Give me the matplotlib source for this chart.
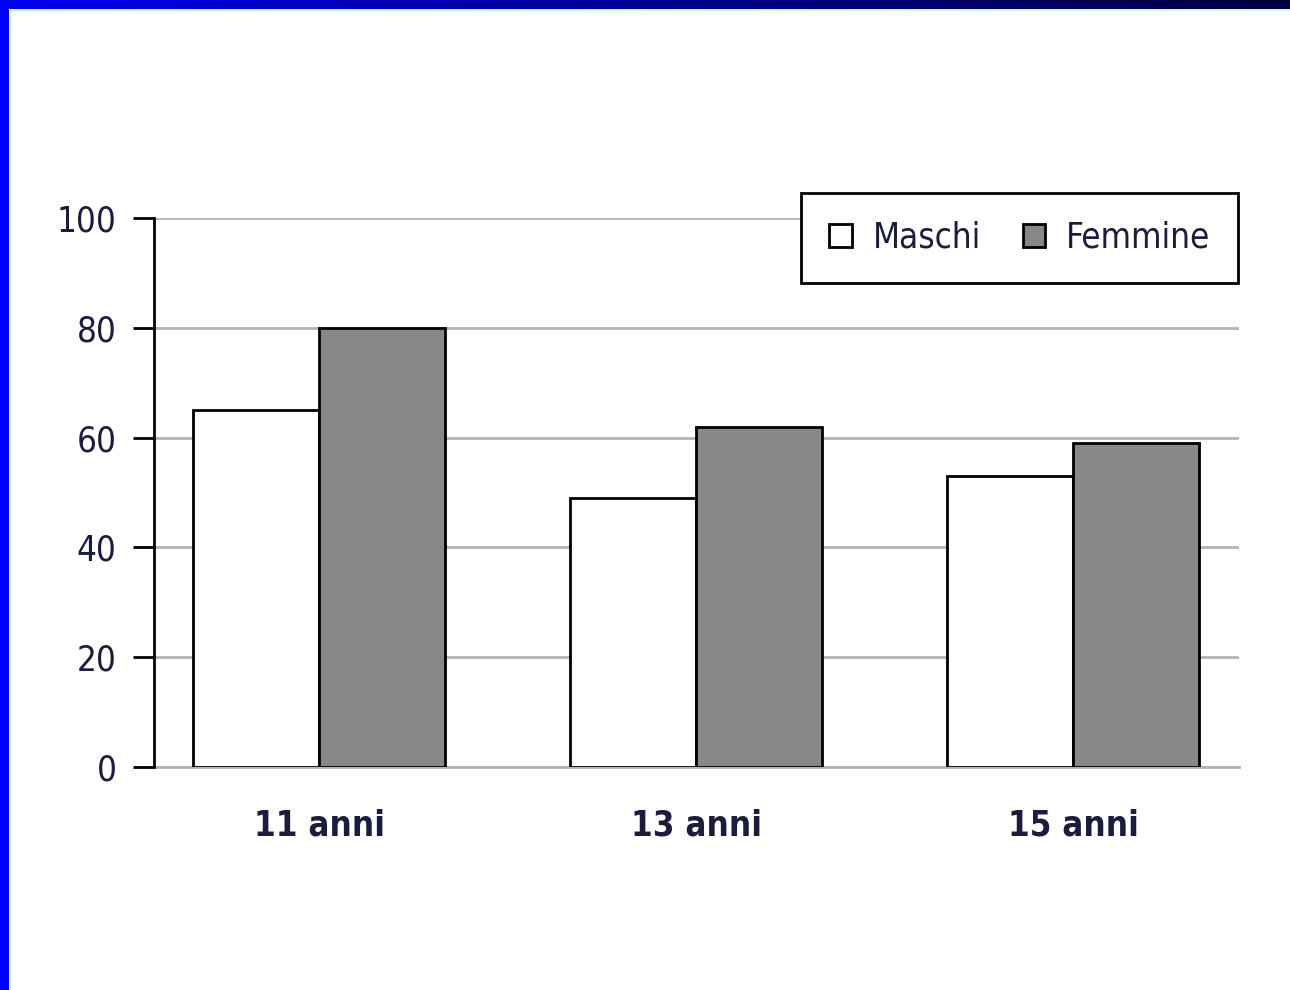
import numpy as np
import matplotlib.pyplot as plt
from matplotlib.patches import Rectangle
from matplotlib.colors import LinearSegmentedColormap
from matplotlib.font_manager import findfont, FontProperties

# dati
categorie = ['11 anni', '13 anni', '15 anni']
maschi = [65, 49, 53]
femmine = [80, 62, 59]
y_ticks = [0, 20, 40, 60, 80, 100]

# font stretto se disponibile
stretch = 'normal'
fam = ['Liberation Sans', 'DejaVu Sans']
try:
    p = findfont(FontProperties(family='Liberation Sans Narrow'), fallback_to_default=False)
    if 'Narrow' in p:
        fam = ['Liberation Sans Narrow', 'DejaVu Sans']
except Exception:
    p = findfont(FontProperties(family='DejaVu Sans', stretch='condensed'))
    if 'Condensed' in p:
        fam = ['DejaVu Sans']
        stretch = 'condensed'
plt.rcParams['font.family'] = fam
plt.rcParams['font.stretch'] = stretch
txt_col = '#1c1c3c'

W, H = 1290, 990
fig = plt.figure(figsize=(W / 100, H / 100), dpi=100)
fig.patch.set_facecolor('white')

# bordo blu sinistro e barra in alto sfumata
fig.patches.append(Rectangle((0, 0), 9 / W, 1, transform=fig.transFigure,
                             facecolor='#0000ff', edgecolor='none', zorder=0))
fig.patches.append(Rectangle((9 / W, 0), 2 / W, 1 - 9 / H, transform=fig.transFigure,
                             facecolor='#ccffcc', edgecolor='none', zorder=0))
fig.patches.append(Rectangle((9 / W, 1 - 11 / H), 1, 2 / H, transform=fig.transFigure,
                             facecolor='#ccffcc', edgecolor='none', zorder=0))
top = fig.add_axes([0, 1 - 9 / H, 1, 9 / H])
grad = np.linspace(0, 1, 256).reshape(1, -1)
cm = LinearSegmentedColormap.from_list('b', ['#0000f0', '#000090', '#000040'])
top.imshow(grad, aspect='auto', cmap=cm, extent=[0, 1, 0, 1])
top.axis('off')

# area del grafico
ax = fig.add_axes([154 / W, 1 - 767 / H, (1239 - 154) / W, (767 - 218) / H])
x = np.arange(len(categorie))
w = 0.334
ax.bar(x - w / 2, maschi, w, color='white', edgecolor='black', linewidth=2,
       label='Maschi', zorder=3)
ax.bar(x + w / 2, femmine, w, color='#888888', edgecolor='black', linewidth=2,
       label='Femmine', zorder=3)

ax.set_xlim(-0.438, 2.44)
ax.set_ylim(0, 100)
ax.set_yticks(y_ticks)
ax.yaxis.grid(True, color='#b4b4b4', linewidth=2, zorder=1)
ax.set_axisbelow(True)
for s in ['top', 'right', 'bottom']:
    ax.spines[s].set_visible(False)
ax.spines['left'].set_linewidth(2)
ax.spines['left'].set_color('black')
ax.axhline(0, color='#b4b4b4', linewidth=2, zorder=1, clip_on=False)

fs = 25
ax.tick_params(axis='y', length=15, width=2, color='black', direction='out',
               labelsize=fs, labelcolor=txt_col, pad=12)
ax.set_xticks(x)
ax.set_xticklabels(categorie, fontsize=fs, fontweight='bold', color=txt_col)
ax.tick_params(axis='x', length=0, pad=30)

leg = ax.legend(loc='upper right', bbox_to_anchor=(1238 / W, 1 - 193 / H),
                bbox_transform=fig.transFigure, ncol=2, frameon=True,
                fancybox=False, framealpha=1, fontsize=fs,
                handlelength=0.65, handleheight=0.65,
                handletextpad=0.6, columnspacing=1.2, borderpad=0.8,
                borderaxespad=0)
leg.get_frame().set_edgecolor('black')
leg.get_frame().set_linewidth(2)
for t in leg.get_texts():
    t.set_color(txt_col)

fig.savefig('out.png', dpi=100)
